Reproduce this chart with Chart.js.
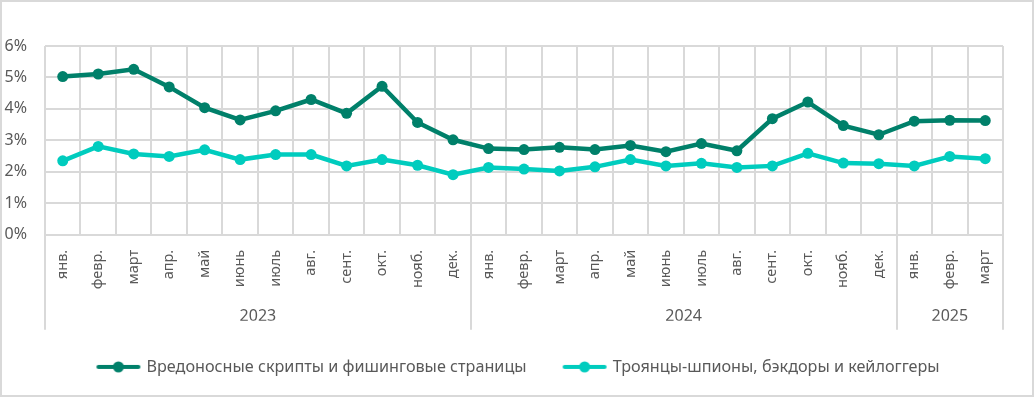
<!DOCTYPE html>
<html>
<head>
<meta charset="utf-8">
<script src="https://cdn.jsdelivr.net/npm/chart.js@4.4.1/dist/chart.umd.min.js"></script>
<style>
  html, body { margin: 0; padding: 0; background: #fff; }
  #wrap { position: relative; width: 1034px; height: 397px; box-sizing: border-box; border: 2px solid #d9d9d9; }
  #c { position: absolute; left: -2px; top: -2px; }
</style>
</head>
<body>
<div id="wrap"><canvas id="c" width="1034" height="397"></canvas></div>
<script>
// ---- data ----
const months = ['янв.','февр.','март','апр.','май','июнь','июль','авг.','сент.','окт.','нояб.','дек.',
                'янв.','февр.','март','апр.','май','июнь','июль','авг.','сент.','окт.','нояб.','дек.',
                'янв.','февр.','март'];
const years = ['2023','2024','2025'];
const yearMonthCounts = [12, 12, 3];
const seriesNames = ['Вредоносные скрипты и фишинговые страницы', 'Троянцы-шпионы, бэкдоры и кейлоггеры'];
const maliciousScripts = [5.03,5.11,5.26,4.70,4.04,3.65,3.94,4.30,3.86,4.72,3.57,3.02,
                          2.74,2.71,2.78,2.71,2.84,2.64,2.90,2.67,3.69,4.22,3.47,3.18,
                          3.61,3.64,3.63];
const trojans = [2.35,2.81,2.57,2.49,2.70,2.39,2.55,2.55,2.19,2.39,2.21,1.91,
                 2.14,2.09,2.03,2.16,2.39,2.19,2.27,2.14,2.19,2.59,2.28,2.26,
                 2.19,2.49,2.42];
const yTicks = [0,1,2,3,4,5,6];

// ---- style ----
const darkColor = '#00806A';
const lightColor = '#00CCBE';
const gridColor = '#d9d9d9';
const textColor = '#595959';
const FONT = "'Noto Sans', 'Open Sans', sans-serif";

// year-group positions derived from counts
const yearCenters = [];
const yearBounds = [-0.5];
let acc = 0;
yearMonthCounts.forEach(n => { yearCenters.push(acc + (n - 1) / 2); acc += n; yearBounds.push(acc - 0.5); });

function legendMarker(color) {
  const cv = document.createElement('canvas');
  cv.width = 46; cv.height = 14;
  const g = cv.getContext('2d');
  g.strokeStyle = color; g.lineWidth = 4; g.lineCap = 'round';
  g.beginPath(); g.moveTo(3, 7); g.lineTo(43, 7); g.stroke();
  g.fillStyle = color; g.beginPath(); g.arc(23, 7, 5.5, 0, Math.PI * 2); g.fill();
  return cv;
}
const markers = [legendMarker(darkColor), legendMarker(lightColor)];

const yearSeparators = {
  id: 'yearSeparators',
  afterDraw(chart) {
    const x2 = chart.scales.x2;
    const ctx = chart.ctx;
    const bottom = chart.chartArea.bottom + 95;
    ctx.save();
    ctx.strokeStyle = gridColor;
    ctx.lineWidth = 2;
    yearBounds.forEach(b => {
      const px = Math.round(x2.getPixelForValue(b));
      ctx.beginPath();
      ctx.moveTo(px, chart.chartArea.bottom);
      ctx.lineTo(px, bottom);
      ctx.stroke();
    });
    ctx.restore();
  }
};

function noSidePad(s) { s.paddingLeft = 0; s.paddingRight = 0; }

new Chart(document.getElementById('c'), {
  type: 'line',
  data: {
    labels: months,
    datasets: [
      { label: seriesNames[0], data: maliciousScripts, borderColor: darkColor, backgroundColor: darkColor,
        borderWidth: 4.5, pointRadius: 5.5, pointHoverRadius: 5.5, pointBackgroundColor: darkColor, pointBorderWidth: 0, tension: 0 },
      { label: seriesNames[1], data: trojans, borderColor: lightColor, backgroundColor: lightColor,
        borderWidth: 4.5, pointRadius: 5.5, pointHoverRadius: 5.5, pointBackgroundColor: lightColor, pointBorderWidth: 0, tension: 0 }
    ]
  },
  options: {
    responsive: false,
    animation: false,
    events: [],
    layout: { padding: { left: 4, right: 0, top: 46, bottom: 12 } },
    scales: {
      x: {
        type: 'category',
        offset: true,
        grid: { offset: true, color: gridColor, lineWidth: 2, drawTicks: false },
        border: { display: true, color: gridColor, width: 2 },
        ticks: { maxRotation: 90, minRotation: 90, autoSkip: false, padding: 15,
                 color: textColor, font: { family: FONT, size: 14.5 } },
        afterFit(s) { s.height = 58; noSidePad(s); }
      },
      x2: {
        type: 'linear',
        position: 'bottom',
        min: -0.5, max: 26.5,
        offset: false,
        grid: { display: false, drawTicks: false },
        border: { display: false },
        afterBuildTicks(s) { s.ticks = yearCenters.map(v => ({ value: v })); },
        ticks: { color: textColor, font: { family: FONT, size: 16 }, padding: 14,
                 autoSkip: false, maxRotation: 0,
                 callback(v) { const i = yearCenters.indexOf(v); return i >= 0 ? years[i] : ''; } },
        afterFit(s) { s.height = 28; noSidePad(s); }
      },
      y: {
        min: 0, max: 6,
        afterBuildTicks(s) { s.ticks = yTicks.map(v => ({ value: v })); },
        grid: { color: gridColor, lineWidth: 2, drawTicks: false },
        border: { display: false },
        ticks: { color: textColor, font: { family: FONT, size: 16 }, padding: 18,
                 callback: v => v + '%' },
        afterFit(s) { s.width = 41; }
      },
      yRight: {
        type: 'linear',
        position: 'right',
        grid: { display: false, drawTicks: false },
        border: { display: false },
        ticks: { display: false },
        afterFit(s) { s.width = 31; }
      }
    },
    plugins: {
      tooltip: { enabled: false },
      legend: {
        position: 'bottom',
        labels: {
          usePointStyle: true,
          pointStyleWidth: 40,
          padding: 38,
          color: textColor,
          font: { family: FONT, size: 16.2 },
          generateLabels(chart) {
            return chart.data.datasets.map((d, i) => ({
              text: d.label, pointStyle: markers[i], fillStyle: d.borderColor, strokeStyle: d.borderColor,
              lineWidth: 0, hidden: false, datasetIndex: i, fontColor: textColor
            }));
          }
        }
      }
    }
  },
  plugins: [yearSeparators]
});
</script>
</body>
</html>
